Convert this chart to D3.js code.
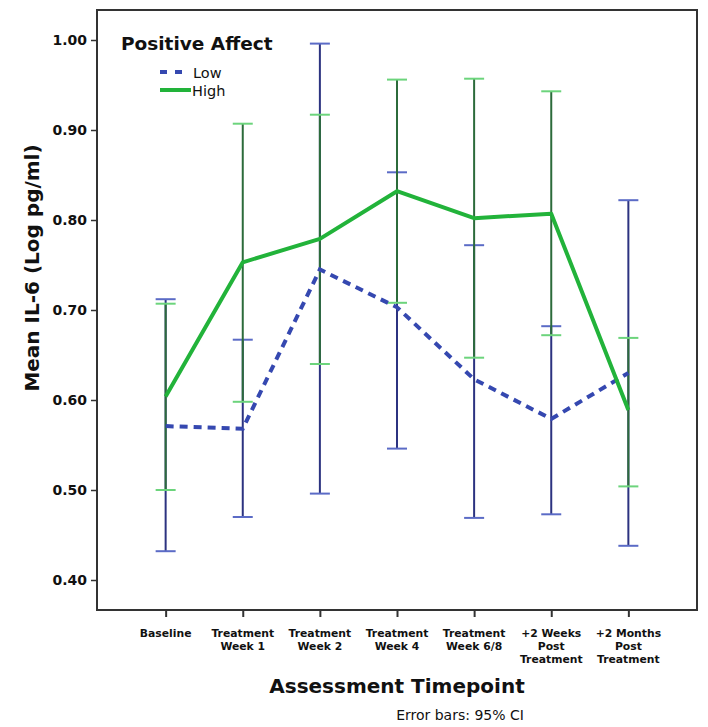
<!DOCTYPE html>
<html><head><meta charset="utf-8">
<script src="https://cdn.jsdelivr.net/npm/d3@7"></script>
<style>body{margin:0;background:#fff}svg{display:block}text{font-family:"DejaVu Sans",sans-serif;fill:#111}</style>
</head><body><svg id="c" width="708" height="727"></svg>
<script>
const categories = ["Baseline","Treatment Week 1","Treatment Week 2","Treatment Week 4","Treatment Week 6/8","+2 Weeks Post Treatment","+2 Months Post Treatment"];
const categoryLines = [["Baseline"],["Treatment","Week 1"],["Treatment","Week 2"],["Treatment","Week 4"],["Treatment","Week 6/8"],["+2 Weeks","Post","Treatment"],["+2 Months","Post","Treatment"]];
const lowMean  = [0.571, 0.568, 0.745, 0.703, 0.623, 0.579, 0.630];
const lowLower = [0.432, 0.470, 0.496, 0.546, 0.469, 0.473, 0.438];
const lowUpper = [0.712, 0.667, 0.996, 0.853, 0.772, 0.682, 0.822];
const highMean  = [0.604, 0.753, 0.779, 0.832, 0.802, 0.807, 0.589];
const highLower = [0.500, 0.598, 0.640, 0.708, 0.647, 0.672, 0.504];
const highUpper = [0.707, 0.907, 0.917, 0.956, 0.957, 0.943, 0.669];
const yTicks = [0.4, 0.5, 0.6, 0.7, 0.8, 0.9, 1.0];

const svg = d3.select("#c");
const L = 97, R = 697, T = 10, B = 610;
const x = d3.scalePoint().domain(categories).range([L, R]).padding(0.89);
const y = d3.scaleLinear().domain([0.4, 1.0]).range([580, 40]);

// frame
svg.append("rect").attr("x", L).attr("y", T).attr("width", R - L).attr("height", B - T)
  .attr("fill", "none").attr("stroke", "#333").attr("stroke-width", 2);

// y axis
const ya = svg.append("g").attr("transform", `translate(${L},0)`)
  .call(d3.axisLeft(y).tickValues(yTicks).tickFormat(d3.format(".2f")).tickSize(6).tickPadding(4));
ya.select(".domain").remove();
ya.selectAll(".tick line").attr("stroke", "#333").attr("stroke-width", 1.5);
ya.selectAll(".tick text").style("font-size", "14px").style("font-weight", "bold").attr("fill", "#111");

// x axis
const xa = svg.append("g").attr("transform", `translate(0,${B})`)
  .call(d3.axisBottom(x).tickSize(7).tickFormat(""));
xa.select(".domain").remove();
xa.selectAll(".tick line").attr("stroke", "#333").attr("stroke-width", 2);
const xl = svg.append("g");
categories.forEach((c, i) => {
  const t = xl.append("text").attr("x", x(c)).attr("y", 637).attr("text-anchor", "middle")
    .style("font-size", "10.8px").style("font-weight", "bold");
  categoryLines[i].forEach((ln, j) => t.append("tspan").attr("x", x(c)).attr("dy", j === 0 ? 0 : 13).text(ln));
});

// error bars
function bars(lower, upper, vcol, ccol) {
  const g = svg.append("g");
  categories.forEach((c, i) => {
    const cx = x(c);
    g.append("line").attr("x1", cx).attr("x2", cx).attr("y1", y(lower[i])).attr("y2", y(upper[i]))
      .attr("stroke", vcol).attr("stroke-width", 2);
    [lower[i], upper[i]].forEach(v => g.append("line").attr("x1", cx - 10).attr("x2", cx + 10)
      .attr("y1", y(v)).attr("y2", y(v)).attr("stroke", ccol).attr("stroke-width", 2));
  });
}
bars(lowLower, lowUpper, "#2c3380", "#5b6bc6");
bars(highLower, highUpper, "#2c6b3b", "#6cd47c");

const line = d3.line().x((d, i) => x(categories[i])).y(d => y(d));
svg.append("path").datum(lowMean).attr("d", line).attr("fill", "none")
  .attr("stroke", "#3548b0").attr("stroke-width", 4).attr("stroke-dasharray", "8,6");
svg.append("path").datum(highMean).attr("d", line).attr("fill", "none")
  .attr("stroke", "#22b33a").attr("stroke-width", 4).attr("stroke-linejoin", "round");

// legend
svg.append("text").attr("x", 121).attr("y", 50).style("font-size", "18.5px").style("font-weight", "bold").text("Positive Affect");
svg.append("line").attr("x1", 160).attr("x2", 184).attr("y1", 72).attr("y2", 72)
  .attr("stroke", "#3548b0").attr("stroke-width", 4).attr("stroke-dasharray", "7,8");
svg.append("text").attr("x", 193).attr("y", 78).style("font-size", "14.5px").text("Low");
svg.append("line").attr("x1", 160).attr("x2", 191).attr("y1", 90).attr("y2", 90)
  .attr("stroke", "#22b33a").attr("stroke-width", 4);
svg.append("text").attr("x", 192).attr("y", 96).style("font-size", "14.5px").text("High");

// axis titles
svg.append("text").attr("transform", "translate(39,268) rotate(-90)").attr("text-anchor", "middle")
  .style("font-size", "20px").style("font-weight", "bold").text("Mean IL-6 (Log pg/ml)");
svg.append("text").attr("x", 397).attr("y", 693).attr("text-anchor", "middle")
  .style("font-size", "20px").style("font-weight", "bold").text("Assessment Timepoint");
svg.append("text").attr("x", 460).attr("y", 720).attr("text-anchor", "middle")
  .style("font-size", "14px").text("Error bars: 95% CI");
</script></body></html>
